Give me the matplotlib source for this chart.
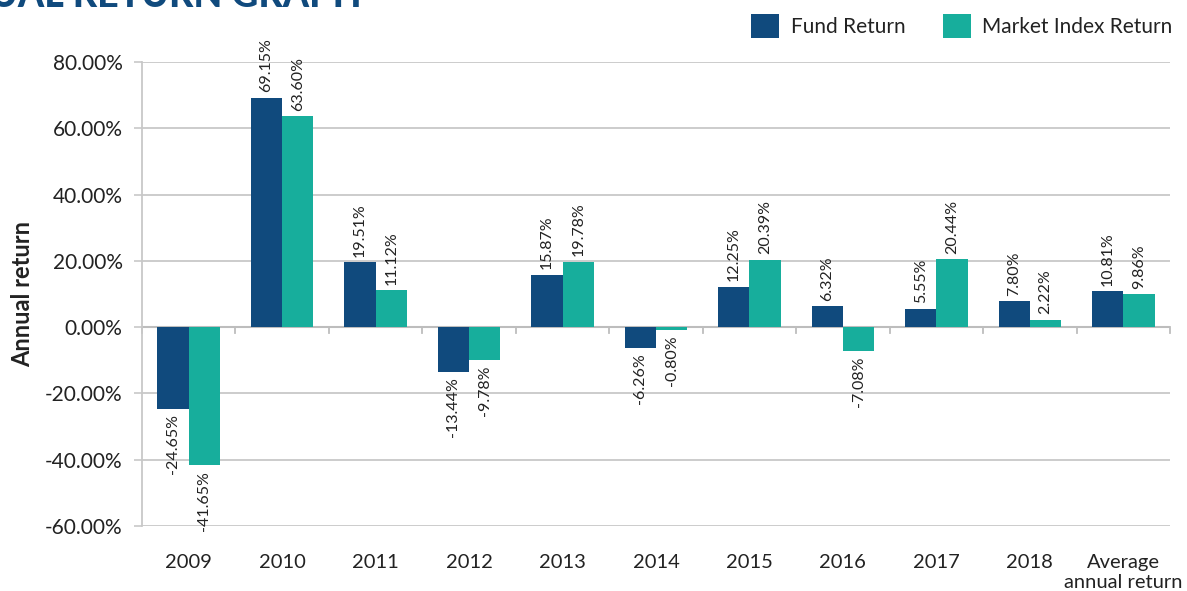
import matplotlib.pyplot as plt
import numpy as np

plt.rcParams['font.family'] = ['Lato', 'DejaVu Sans']

categories = ["2009", "2010", "2011", "2012", "2013", "2014", "2015", "2016", "2017", "2018",
              "Average\nannual return"]
fund_return = [-24.65, 69.15, 19.51, -13.44, 15.87, -6.26, 12.25, 6.32, 5.55, 7.80, 10.81]
index_return = [-41.65, 63.60, 11.12, -9.78, 19.78, -0.80, 20.39, -7.08, 20.44, 2.22, 9.86]

fund_color = "#104a7d"
index_color = "#17ae9c"
grid_color = "#c8c8c8"
text_color = "#222222"

fig = plt.figure(figsize=(11.87, 5.91), dpi=100)
ax = fig.add_axes([142 / 1187, 1 - 526 / 591, (1170 - 142) / 1187, (526 - 62) / 591])

x = np.arange(len(categories))
w = 0.335
b1 = ax.bar(x - w / 2, fund_return, w, color=fund_color, label="Fund Return", zorder=3)
b2 = ax.bar(x + w / 2, index_return, w, color=index_color, label="Market Index Return", zorder=3)

# rotated value labels
for bars, vals in ((b1, fund_return), (b2, index_return)):
    for rect, v in zip(bars, vals):
        cx = rect.get_x() + rect.get_width() / 2
        if v >= 0:
            ax.annotate("%.2f%%" % v, (cx, v), xytext=(0, 4), textcoords="offset points",
                        rotation=90, ha="center", va="bottom", fontsize=11.5, color=text_color)
        else:
            ax.annotate("%.2f%%" % v, (cx, v), xytext=(0, -4), textcoords="offset points",
                        rotation=90, ha="center", va="top", fontsize=11.5, color=text_color)

ax.set_xlim(-0.5, len(categories) - 0.5)
ax.set_ylim(-60, 80)
ax.set_yticks(np.arange(-60, 81, 20))
ax.set_yticklabels(["%.2f%%" % t for t in np.arange(-60, 81, 20)], fontsize=15, color=text_color)
ax.set_xticks(x)
ax.set_xticklabels(categories, fontsize=14.5, color=text_color, linespacing=1.2)
ax.tick_params(axis="x", length=0, pad=20)
ax.tick_params(axis="y", length=6, width=1.2, color=grid_color, pad=8)

ax.grid(axis="y", color=grid_color, linewidth=1.3, zorder=0)
for s in ("top", "right", "bottom"):
    ax.spines[s].set_visible(False)
ax.spines["left"].set_color(grid_color)
ax.spines["left"].set_linewidth(1.3)

# zero line with category boundary ticks
ax.axhline(0, color="#bdbdbd", linewidth=1.5, zorder=2)
for bx in np.arange(-0.5, len(categories), 1.0):
    ax.plot([bx, bx], [0, -1.8], color="#bdbdbd", linewidth=1.3, zorder=2, clip_on=False)

ax.set_ylabel("Annual return", fontsize=17, fontweight="bold", color=text_color)
ax.yaxis.set_label_coords(-0.105, 0.5)

leg = fig.legend(handles=[b1, b2], loc="upper right", bbox_to_anchor=(1 - 6 / 1187, 1 - 6 / 591),
                 ncol=2, frameon=False, fontsize=15, handlelength=1.35, handleheight=1.35,
                 handletextpad=0.55, columnspacing=1.8, borderaxespad=0)
for t in leg.get_texts():
    t.set_color(text_color)

fig.text(-10 / 1187, 1 - 7 / 591, "UAL RETURN GRAPH", fontsize=27, fontweight="black",
         color=fund_color, va="baseline", ha="left")

fig.savefig("out.png", dpi=100)
